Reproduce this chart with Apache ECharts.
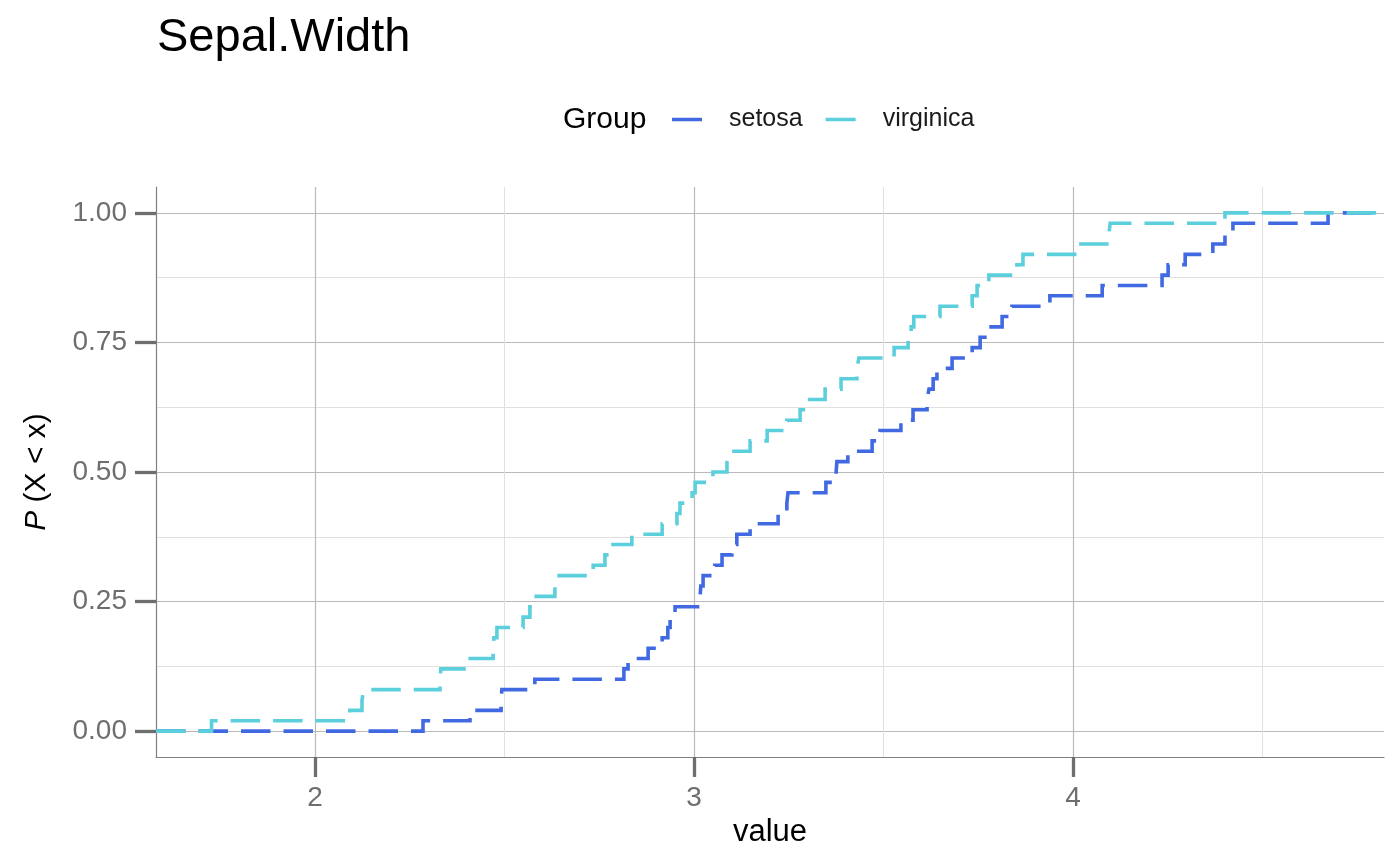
<!DOCTYPE html>
<html>
<head>
<meta charset="utf-8">
<script src="https://cdn.jsdelivr.net/npm/echarts@6/dist/echarts.min.js"></script>
<style>
html,body{margin:0;padding:0;background:#ffffff;}
#chart{width:1400px;height:866px;}
</style>
</head>
<body>
<div id="chart"></div>
<script>
// ---- data (sorted Sepal.Width sample values per group) ----
const chartTitle = 'Sepal.Width';
const legendTitle = 'Group';
const groups = ['setosa', 'virginica'];
const groupColors = ['#4169E1', '#5CCFDD'];
const setosaValues = [
  2.285, 2.409, 2.491, 2.493, 2.580, 2.815, 2.826, 2.879, 2.916, 2.931,
  2.937, 2.950, 3.016, 3.018, 3.024, 3.055, 3.074, 3.100, 3.113, 3.148,
  3.222, 3.245, 3.248, 3.348, 3.375, 3.377, 3.406, 3.470, 3.491, 3.546,
  3.578, 3.615, 3.620, 3.631, 3.641, 3.681, 3.734, 3.755, 3.773, 3.813,
  3.839, 3.939, 4.077, 4.235, 4.251, 4.296, 4.369, 4.401, 4.422, 4.673
];
const virginicaValues = [
  1.727, 2.092, 2.124, 2.129, 2.330, 2.332, 2.400, 2.470, 2.472, 2.480,
  2.549, 2.567, 2.578, 2.633, 2.636, 2.734, 2.765, 2.778, 2.836, 2.916,
  2.955, 2.963, 2.995, 3.003, 3.050, 3.087, 3.092, 3.148, 3.193, 3.245,
  3.280, 3.296, 3.346, 3.388, 3.430, 3.435, 3.528, 3.565, 3.573, 3.580,
  3.649, 3.734, 3.747, 3.778, 3.852, 3.868, 4.011, 4.095, 4.098, 4.401
];
const xMajorTicks = [2, 3, 4];
const xMinorTicks = [2.5, 3.5, 4.5];
const yMajorTicks = [0, 0.25, 0.5, 0.75, 1];
const yMinorTicks = [0.125, 0.375, 0.625, 0.875];
const xRange = [1.5805, 4.8206];
const yRange = [-0.05, 1.05];

// ---- ECDF (padded to the panel edges, like stat_ecdf(pad = TRUE)) ----
function ecdf(values) {
  const n = values.length;
  const pts = [[xRange[0], 0]];
  values.forEach((v, i) => pts.push([v, (i + 1) / n]));
  pts.push([xRange[1], 1]);
  return pts;
}
const seriesValues = [setosaValues, virginicaValues];

const FONT = '"Liberation Sans", Arial, Helvetica, sans-serif';
const chart = echarts.init(document.getElementById('chart'), null, {renderer: 'canvas'});

const option = {
  animation: false,
  backgroundColor: '#ffffff',
  textStyle: {fontFamily: FONT},
  title: {
    text: chartTitle, left: 157, top: 15, padding: 0,
    textStyle: {fontSize: 47, fontWeight: 'normal', color: '#000000', fontFamily: FONT}
  },
  graphic: [{
    type: 'text', left: 563, top: 105,
    style: {text: legendTitle, fontSize: 30, fill: '#000000', fontFamily: FONT}
  }],
  legend: {
    data: groups, left: 672, top: 107, padding: 0,
    icon: 'rect', itemWidth: 30, itemHeight: 3.5, itemGap: 23,
    textStyle: {fontSize: 25, color: '#1a1a1a', fontFamily: FONT, padding: [0, 0, 0, 22]}
  },
  grid: {left: 156, right: 16, top: 187, bottom: 109, containLabel: false, outerBoundsMode: 'none'},
  xAxis: [{
    type: 'value', min: xRange[0], max: xRange[1],
    name: 'value', nameLocation: 'middle', nameGap: 59,
    nameTextStyle: {fontSize: 31, color: '#000000', fontFamily: FONT},
    axisLine: {show: true, onZero: false, lineStyle: {color: '#808080', width: 1.2}},
    axisTick: {show: true, length: 20, customValues: xMajorTicks, lineStyle: {color: '#6e6e6e', width: 3.3}},
    axisLabel: {customValues: xMajorTicks, margin: 27, fontSize: 28, color: '#6e6e6e', fontFamily: FONT,
      formatter: v => String(v)},
    splitLine: {show: true, lineStyle: {color: '#b9b9b9', width: 1.2}}
  }, {
    type: 'value', min: xRange[0], max: xRange[1], position: 'bottom',
    axisLine: {show: false}, axisLabel: {show: false},
    axisTick: {show: false, customValues: xMinorTicks},
    splitLine: {show: true, lineStyle: {color: '#e0e0e0', width: 1}}
  }],
  yAxis: [{
    type: 'value', min: yRange[0], max: yRange[1],
    name: '{i|P} (X < x)', nameLocation: 'middle', nameGap: 104, nameRotate: 90,
    nameTextStyle: {fontSize: 30, color: '#000000', fontFamily: FONT,
      rich: {i: {fontStyle: 'italic', fontSize: 30, color: '#000000', fontFamily: FONT}}},
    axisLine: {show: true, onZero: false, lineStyle: {color: '#808080', width: 1.2}},
    axisTick: {show: true, length: 21, customValues: yMajorTicks, lineStyle: {color: '#6e6e6e', width: 3.3}},
    axisLabel: {customValues: yMajorTicks, margin: 29, fontSize: 28, color: '#6e6e6e', fontFamily: FONT,
      formatter: v => v.toFixed(2)},
    splitLine: {show: true, lineStyle: {color: '#b9b9b9', width: 1.2}}
  }, {
    type: 'value', min: yRange[0], max: yRange[1], position: 'left',
    axisLine: {show: false}, axisLabel: {show: false},
    axisTick: {show: false, customValues: yMinorTicks},
    splitLine: {show: true, lineStyle: {color: '#e0e0e0', width: 1}}
  }],
  series: groups.map((g, k) => ({
    name: g, type: 'line', step: 'end',
    xAxisIndex: 0, yAxisIndex: 0,
    symbol: 'none', showSymbol: false, clip: true, z: 3 + k,
    data: ecdf(seriesValues[k]),
    itemStyle: {color: groupColors[k]},
    lineStyle: {color: groupColors[k], width: 3.6, type: [29.5, 13], cap: 'butt', join: 'miter'},
    emphasis: {disabled: true}
  }))
};
chart.setOption(option);
</script>
</body>
</html>
